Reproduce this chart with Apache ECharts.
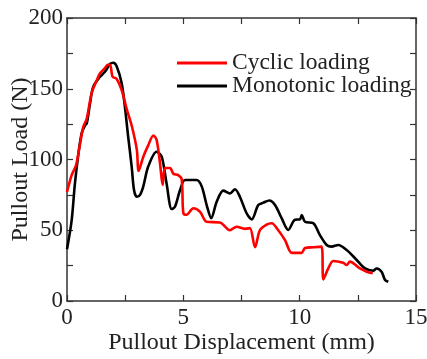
<!DOCTYPE html>
<html><head><meta charset="utf-8">
<script src="https://cdn.jsdelivr.net/npm/echarts@6/dist/echarts.min.js"></script>
<style>html,body{margin:0;padding:0;background:#fff}#c{width:427px;height:359px}</style>
</head><body><div id="c"></div>
<script>
var cyclicX = [0,0.2,0.39,0.56,0.70,0.85,1.06,1.28,1.42,1.63,1.75,1.85,1.96,2.13,2.35,2.56,2.78,3.0,3.08,3.28,3.49,3.71,3.85,4.0,4.11,4.21,4.43,4.57,4.78,4.93,5.0,5.14,5.43,5.72,6.0,6.57,7.0,7.29,7.65,7.86,8.08,8.29,8.58,8.80,9.08,9.37,9.66,9.94,10.09,10.23,10.6,10.94,11.02,11.23,11.44,11.87,12.02,12.16,12.59,12.88,13.14];
var cyclicY = [77,89,96,111,123,129,147,156,161,164.5,167,167,158.5,157,149,136,124,107,92,102,110,117,114,97,82,94,94,90,89,86,62,61,65.5,63,56,55.5,50,52.5,51,51.5,38,50,54,55,50,43,34,34,34,37.5,38,38.4,15.3,23,28.3,27,25.4,27.8,23,20.7,19.6];
var monoX = [0.0,0.2,0.34,0.49,0.63,0.77,0.85,0.99,1.13,1.42,1.63,1.85,1.99,2.13,2.35,2.49,2.63,2.78,2.88,3.0,3.14,3.28,3.49,3.85,4.07,4.28,4.5,4.64,4.86,5.07,5.57,5.79,6.0,6.2,6.43,6.72,7.0,7.22,7.43,7.72,7.94,8.22,8.44,8.70,8.94,9.23,9.51,9.80,10.01,10.09,10.23,10.59,10.87,11.16,11.37,11.66,12.02,12.45,12.81,13.16,13.31,13.52,13.67,13.81];
var monoY = [36.5,57,83,104,118.5,124,125.6,139.7,151.5,158.5,162,167.5,168.4,166,153.8,137,116,95,78.4,73.7,75,81,95,105.5,102,83,65,66.6,78.4,85.5,85.5,81,68,58.5,70,78,76,79,73.7,62,57.7,67.8,69.5,71,67.8,58.4,50.2,57.5,57.7,60.8,56,55,46.6,39.6,38.4,39.6,36,29,23,21.4,23,20.7,14.8,13.6];
var seriesNames = ['Cyclic loading','Monotonic loading'];
var xTicks = [0,5,10,15];
var yTicks = [0,50,100,150,200];

function pairs(xs, ys){ return xs.map(function(x,i){ return [x, ys[i]]; }); }
var font = 'Liberation Serif';
var axColor = '#333';
function axisBase(){
  return {
    axisLine:{show:true,onZero:false,lineStyle:{color:axColor,width:1.5}},
    axisTick:{show:true,inside:true,length:6,lineStyle:{color:axColor,width:1.2}},
    minorTick:{show:true,splitNumber:2,length:6,lineStyle:{color:axColor,width:1.2}},
    splitLine:{show:false}
  };
}
var xb = axisBase(), xt = axisBase(), yl = axisBase(), yr = axisBase();
var chart = echarts.init(document.getElementById('c'));
chart.setOption({
  animation:false,
  grid:{left:67,top:18,right:11,bottom:58,containLabel:false,outerBoundsMode:'none'},
  legend:{
    orient:'vertical', left:177, top:51, itemGap:-1, padding:0,
    itemWidth:50, itemHeight:3, icon:'rect',
    textStyle:{fontFamily:font,fontSize:23.5,color:'#222',padding:[0,0,0,0]},
    data:seriesNames
  },
  xAxis:[
    Object.assign(xb,{type:'value',position:'bottom',min:xTicks[0],max:xTicks[xTicks.length-1],interval:5,
      name:'Pullout Displacement (mm)',nameLocation:'middle',nameGap:30,nameMoveOverlap:false,
      nameTextStyle:{fontFamily:font,fontSize:24,color:'#222'},
      axisLabel:{fontFamily:font,fontSize:23,color:'#222',margin:5}}),
    Object.assign(xt,{type:'value',position:'top',min:0,max:15,interval:5,axisLabel:{show:false}})
  ],
  yAxis:[
    Object.assign(yl,{type:'value',position:'left',min:yTicks[0],max:yTicks[yTicks.length-1],interval:50,
      name:'Pullout Load (N)',nameLocation:'middle',nameGap:34,nameMoveOverlap:false,
      nameTextStyle:{fontFamily:font,fontSize:24,color:'#222'},
      axisLabel:{fontFamily:font,fontSize:23,color:'#222',margin:4}}),
    Object.assign(yr,{type:'value',position:'right',min:0,max:200,interval:50,axisLabel:{show:false}})
  ],
  series:[
    {name:seriesNames[1],type:'line',data:pairs(monoX,monoY),showSymbol:false,smooth:0.3,
     lineStyle:{color:'#000',width:2.6},itemStyle:{color:'#000'}},
    {name:seriesNames[0],type:'line',data:pairs(cyclicX,cyclicY),showSymbol:false,smooth:0.3,
     lineStyle:{color:'#ff0000',width:2.6},itemStyle:{color:'#ff0000'}}
  ]
});
</script></body></html>
